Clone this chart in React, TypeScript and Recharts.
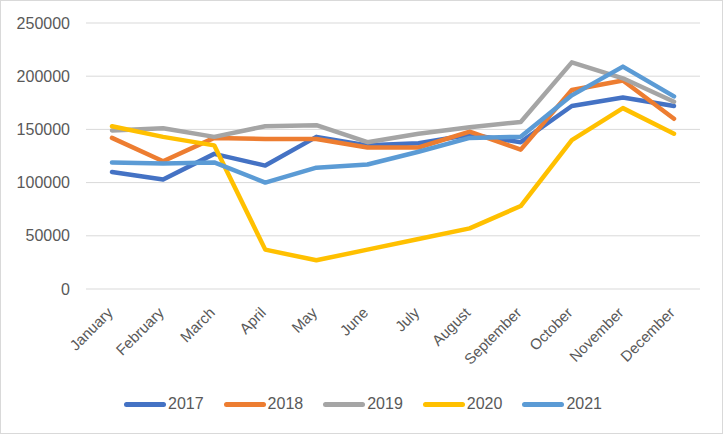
import { LineChart, Line, XAxis, YAxis, CartesianGrid, Legend } from "recharts";

const months = ["January", "February", "March", "April", "May", "June", "July", "August", "September", "October", "November", "December"];
const years = ["2017", "2018", "2019", "2020", "2021"];
const colors = ["#4472C4", "#ED7D31", "#A5A5A5", "#FFC000", "#5B9BD5"];

const v2017 = [110000, 103000, 127000, 116000, 143000, 135000, 137000, 145000, 138000, 172000, 180000, 172000];
const v2018 = [142000, 120000, 142000, 141000, 141000, 133000, 133000, 148000, 131000, 187000, 196000, 160000];
const v2019 = [149000, 151000, 143000, 153000, 154000, 138000, 146000, 152000, 157000, 213000, 198000, 176000];
const v2020 = [153000, 143000, 135000, 37000, 27000, 37000, 47000, 57000, 78000, 140000, 170000, 146000];
const v2021 = [119000, 118000, 119000, 100000, 114000, 117000, 129000, 142000, 143000, 182000, 209000, 181000];
const yTicks = [0, 50000, 100000, 150000, 200000, 250000];

const series = [v2017, v2018, v2019, v2020, v2021];
const data = months.map((m, i) => {
  const row: Record<string, string | number> = { month: m };
  years.forEach((y, k) => (row[y] = series[k][i]));
  return row;
});

const font = "'Liberation Sans', Arial, sans-serif";

const MonthTick = (props: any) => {
  const { x, y, payload } = props;
  return (
    <g transform={`translate(${x - 2},${y + 13})`}>
      <text transform="rotate(-45)" textAnchor="end" dy="0.35em" fill="#595959" fontSize={15} fontFamily={font}>
        {payload.value}
      </text>
    </g>
  );
};

const LegendBox = () => (
  <div
    style={{
      display: "flex",
      justifyContent: "center",
      alignItems: "center",
      height: 55,
      paddingBottom: 5,
      paddingLeft: 26,
      boxSizing: "border-box",
    }}
  >
    {years.map((y, k) => (
      <div key={y} style={{ display: "flex", alignItems: "center", marginRight: k < years.length - 1 ? 20 : 0 }}>
        <div style={{ width: 42, height: 5, borderRadius: 3, background: colors[k], marginRight: 2 }} />
        <span style={{ fontFamily: font, fontSize: 16, color: "#595959" }}>{y}</span>
      </div>
    ))}
  </div>
);

export default function App() {
  return (
    <div style={{ position: "absolute", left: 0, top: 0, width: 723, height: 434, background: "#fff" }}>
      <LineChart width={723} height={434} data={data} margin={{ top: 23, right: 23, left: 0, bottom: 0 }}>
        <CartesianGrid vertical={false} stroke="#D9D9D9" strokeWidth={1} />
        <XAxis
          dataKey="month"
          axisLine={false}
          tickLine={false}
          interval={0}
          height={90}
          padding={{ left: 26, right: 26 }}
          tick={<MonthTick />}
        />
        <YAxis
          width={86}
          domain={[0, 250000]}
          ticks={yTicks}
          axisLine={false}
          tickLine={false}
          tickMargin={10}
          tick={{ fill: "#595959", fontSize: 16, fontFamily: font }}
        />
        <Legend verticalAlign="bottom" height={55} content={<LegendBox />} />
        {years.map((y, k) => (
          <Line
            key={y}
            dataKey={y}
            stroke={colors[k]}
            strokeWidth={4.5}
            strokeLinecap="round"
            strokeLinejoin="round"
            dot={false}
            isAnimationActive={false}
          />
        ))}
      </LineChart>
      <div style={{ position: "absolute", inset: 0, border: "1px solid #D9D9D9", pointerEvents: "none" }} />
    </div>
  );
}
